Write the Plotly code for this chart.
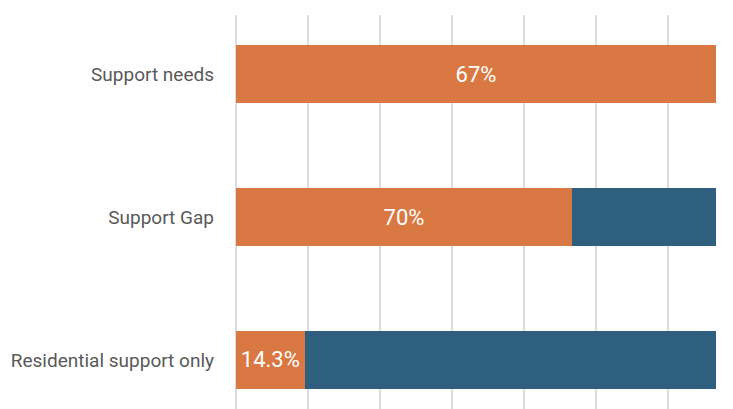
import plotly.graph_objects as go

categories = ["Support needs", "Support Gap", "Residential support only"]
orange_values = [1.0, 0.70, 0.143]
blue_values = [0.0, 0.30, 0.857]
orange_labels = ["67%", "70%", "14.3%"]

ORANGE = "#D97842"
BLUE = "#2E5F7E"

fig = go.Figure()
fig.add_trace(go.Bar(
    y=categories, x=orange_values, orientation="h",
    marker=dict(color=ORANGE, line=dict(width=0)),
    text=orange_labels, textposition="inside", insidetextanchor="middle",
    textfont=dict(color="white", size=22, family="Roboto"),
    width=0.4, cliponaxis=False, constraintext="none",
))
fig.add_trace(go.Bar(
    y=categories, x=blue_values, orientation="h",
    marker=dict(color=BLUE, line=dict(width=0)),
    width=0.4, hoverinfo="skip",
))

fig.update_layout(
    barmode="stack",
    width=733, height=409,
    margin=dict(l=236, r=17, t=15, b=0),
    paper_bgcolor="white", plot_bgcolor="white",
    showlegend=False,
    xaxis=dict(range=[0, 1], dtick=0.15, tick0=0, showgrid=True,
               gridcolor="#dcdcdc", gridwidth=1.5, showticklabels=False,
               zeroline=True, zerolinecolor="#dcdcdc", zerolinewidth=1.5,
               showline=False, fixedrange=True),
    yaxis=dict(categoryorder="array", categoryarray=categories,
               range=[2.343, -0.413], showgrid=False, zeroline=False,
               ticks="", ticklabelstandoff=21,
               tickfont=dict(family="Roboto", size=19, color="#595959")),
    font=dict(family="Roboto"),
)

fig.write_html("out.html", config={"displayModeBar": False},
               post_script="document.body.style.margin='0';")
